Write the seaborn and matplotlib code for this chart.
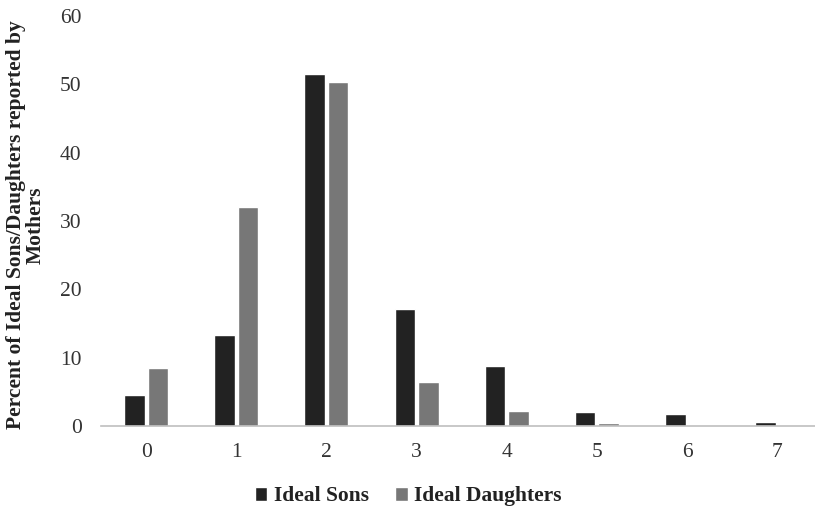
import numpy as np
import pandas as pd
import seaborn as sns
import matplotlib.pyplot as plt

# number of children (categories)
counts = ['0', '1', '2', '3', '4', '5', '6', '7']
ideal_sons = [4.5, 13.4, 51.5, 17.1, 8.8, 2.1, 1.8, 0.6]
ideal_daughters = [8.5, 32.1, 50.3, 6.5, 2.2, 0.5, 0.0, 0.0]
series = ['Ideal Sons', 'Ideal Daughters']
colors = ['#222222', '#777777']


def main():
    df = pd.DataFrame({
        'Count': counts * 2,
        'Percent': ideal_sons + ideal_daughters,
        'Series': [series[0]] * len(counts) + [series[1]] * len(counts),
    })

    sns.set_style('white')
    plt.rcParams['font.family'] = ['Liberation Serif', 'DejaVu Serif']

    fig = plt.figure(figsize=(8.15, 5.14), dpi=100)
    ax = fig.add_axes([0.124, 0.171, 0.876, 0.798])

    sns.barplot(data=df, x='Count', y='Percent', hue='Series',
                order=counts, hue_order=series, palette=colors,
                width=0.52, gap=0.12, saturation=1, ax=ax, legend=True)

    ax.set_xlim(-0.5, 7.42)
    ax.set_ylim(0, 60)
    ax.set_yticks(range(0, 61, 10))
    ax.tick_params(axis='both', length=0, labelsize=15.5, labelcolor='#333333')
    ax.tick_params(axis='x', pad=12)
    ax.tick_params(axis='y', pad=14)

    for side in ['top', 'right', 'left']:
        ax.spines[side].set_visible(False)
    ax.spines['bottom'].set_color('#bfbfbf')
    ax.spines['bottom'].set_linewidth(1.2)

    ax.set_xlabel('')
    ax.set_ylabel('Percent of Ideal Sons/Daughters reported by\nMothers',
                  fontsize=15.5, fontweight='bold', color='#222222',
                  linespacing=1.0)
    ax.yaxis.set_label_coords(-0.077, 0.49)

    ax.legend(loc='upper center', bbox_to_anchor=(0.43, -0.10), ncol=2,
              frameon=False, prop={'size': 15.5, 'weight': 'bold'},
              handlelength=0.6, handleheight=0.6, handletextpad=0.3,
              columnspacing=1.2)
    for t in ax.get_legend().get_texts():
        t.set_color('#222222')

    fig.savefig('out.png', dpi=100)


if __name__ == '__main__':
    main()
